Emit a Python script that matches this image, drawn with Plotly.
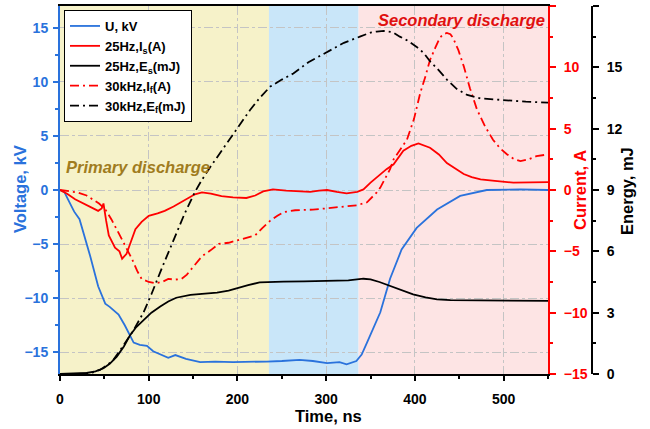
import plotly.graph_objects as go

# ---- data ----
t_U = [0, 5, 9, 16, 22, 28, 34, 43, 51, 56, 66, 73, 83, 90, 98, 105, 113, 122, 130, 142, 158, 175, 195, 215, 233, 250, 270, 285, 301, 315, 323, 334, 340, 346, 353, 361, 372, 385, 402, 425, 451, 481, 519, 550]
U = [0, -0.2, -0.86, -2.0, -2.7, -4.3, -6.1, -8.9, -10.5, -10.8, -11.5, -12.5, -14.1, -14.3, -14.4, -14.9, -15.2, -15.5, -15.25, -15.6, -15.9, -15.85, -15.9, -15.9, -15.85, -15.8, -15.7, -15.8, -16.0, -15.9, -16.1, -15.8, -15.2, -14.1, -12.8, -11.3, -8.2, -5.5, -3.5, -1.8, -0.55, 0, 0.05, 0]

t_Is = [0, 8, 17, 25, 32, 43, 47, 49, 52, 55, 62, 67, 70, 75, 80, 85, 92, 100, 110, 118, 128, 137, 145, 152, 160, 170, 182, 195, 210, 220, 229, 240, 255, 270, 282, 292, 301, 312, 323, 335, 342, 350, 361, 368, 376, 387, 396, 404, 417, 427, 436, 446, 455, 464, 474, 490, 511, 530, 550]
Is = [0, -0.3, -0.76, -1.05, -1.3, -1.7, -1.5, -1.1, -2.5, -3.7, -4.7, -5.0, -5.6, -5.2, -4.2, -3.2, -2.6, -2.1, -1.9, -1.7, -1.35, -1.0, -0.65, -0.35, -0.2, -0.3, -0.5, -0.6, -0.65, -0.45, -0.12, 0.05, -0.05, -0.1, -0.16, -0.05, 0, -0.15, -0.27, -0.15, 0.05, 0.6, 1.3, 1.7, 2.1, 3.2, 3.6, 3.8, 3.45, 2.9, 2.2, 1.7, 1.3, 1.05, 0.87, 0.75, 0.6, 0.62, 0.65]

t_If = [0, 10, 20, 30, 36, 44, 51, 58, 66, 73, 81, 87, 92, 100, 107, 115, 122, 130, 137, 143, 149, 155, 160, 170, 179, 190, 201, 210, 220, 228, 237, 245, 252, 265, 285, 300, 315, 335, 346, 352, 357, 361, 366, 372, 376, 384, 391, 399, 406, 412, 417, 423, 428, 432, 436, 440, 443, 449, 455, 462, 470, 479, 488, 496, 504, 511, 519, 528, 537, 550]
If = [0, -0.1, -0.2, -0.45, -0.76, -1.1, -1.57, -2.4, -3.5, -4.5, -5.6, -6.6, -7.25, -7.5, -7.6, -7.5, -7.25, -7.3, -7.25, -6.9, -6.4, -5.9, -5.4, -4.9, -4.4, -4.3, -4.1, -3.9, -3.7, -3.1, -2.5, -2.1, -1.8, -1.65, -1.6, -1.5, -1.4, -1.24, -1.0, -0.6, -0.2, 0.2, 0.9, 1.7, 2.5, 3.3, 4.1, 5.8, 7.9, 9.3, 10.6, 11.6, 12.4, 12.7, 12.8, 12.7, 12.4, 11.4, 10.1, 8.3, 6.55, 5.2, 4.1, 3.4, 2.9, 2.55, 2.35, 2.5, 2.76, 2.9]

t_Es = [0, 20, 30, 40, 49, 56, 64, 72, 79, 86, 94, 103, 113, 122, 131, 140, 147, 160, 177, 190, 199, 212, 225, 240, 252, 275, 304, 325, 342, 350, 360, 372, 385, 398, 412, 425, 440, 462, 500, 550]
Es = [0, 0.01, 0.05, 0.13, 0.28, 0.5, 0.85, 1.35, 1.9, 2.3, 2.64, 3.0, 3.3, 3.55, 3.73, 3.83, 3.87, 3.92, 3.98, 4.08, 4.2, 4.35, 4.48, 4.52, 4.52, 4.53, 4.55, 4.58, 4.66, 4.63, 4.5, 4.3, 4.08, 3.9, 3.75, 3.65, 3.61, 3.6, 3.58, 3.58]

t_Ef = [0, 20, 35, 45, 52, 60, 70, 83, 94, 103, 115, 128, 140, 152, 160, 169, 177, 186, 195, 205, 214, 225, 237, 250, 263, 280, 301, 320, 338, 350, 357, 365, 375, 383, 392, 402, 410, 417, 427, 436, 447, 459, 474, 490, 504, 525, 550]
Ef = [0, 0, 0.05, 0.2, 0.4, 0.68, 1.3, 2.15, 3.0, 3.9, 5.2, 6.6, 7.8, 8.9, 9.5, 10.1, 10.6, 11.2, 11.76, 12.35, 12.9, 13.5, 14.06, 14.4, 14.7, 15.25, 15.77, 16.2, 16.5, 16.7, 16.75, 16.78, 16.72, 16.5, 16.3, 16.0, 15.7, 15.3, 14.85, 14.4, 13.95, 13.65, 13.48, 13.42, 13.37, 13.32, 13.27]

regions = [(0, 235.5, "#f6f2c9"), (235.5, 336.5, "#c9e6f9"), (336.5, 550, "#fde4e4")]

BLUE = "#2a72dc"
RED = "#ff0000"
GOLD = "#a07c1e"
FONT = "Arial, Liberation Sans, sans-serif"
DASHDOT = "9px,4px,2px,4px"

fig = go.Figure()
fig.add_trace(go.Scatter(x=t_U, y=U, name="U, kV", mode="lines",
                         line=dict(color=BLUE, width=1.8), yaxis="y"))
fig.add_trace(go.Scatter(x=t_Is, y=Is, name="25Hz,I<sub>s</sub>(A)", mode="lines",
                         line=dict(color=RED, width=1.8), yaxis="y2"))
fig.add_trace(go.Scatter(x=t_Es, y=Es, name="25Hz,E<sub>s</sub>(mJ)", mode="lines",
                         line=dict(color="black", width=1.8), yaxis="y3"))
fig.add_trace(go.Scatter(x=t_If, y=If, name="30kHz,I<sub>f</sub>(A)", mode="lines",
                         line=dict(color=RED, width=1.8, dash=DASHDOT), yaxis="y2"))
fig.add_trace(go.Scatter(x=t_Ef, y=Ef, name="30kHz,E<sub>f</sub>(mJ)", mode="lines",
                         line=dict(color="black", width=1.8, dash=DASHDOT), yaxis="y3"))

for x0, x1, c in regions:
    fig.add_shape(type="rect", xref="x", yref="paper", x0=x0, x1=x1, y0=0, y1=1,
                  fillcolor=c, line=dict(width=0), layer="below")

L, T, B = 60, 6, 55
PW = 550            # paper width in px
PH = 429 - T - B    # paper height in px
XD = 488 / PW


def px_x(p):
    return (p - L) / PW


def px_y(p):
    return (429 - B - p) / PH


TF = dict(size=16.5, weight="bold")

fig.update_layout(
    width=650, height=429,
    margin=dict(l=L, r=650 - L - PW, t=T, b=B, autoexpand=False),
    paper_bgcolor="white", plot_bgcolor="white",
    font=dict(family=FONT, size=14, color="black"),
    showlegend=True,
    legend=dict(x=px_x(64), y=px_y(10), xanchor="left", yanchor="top",
                bgcolor="white", bordercolor="black", borderwidth=1,
                font=dict(size=13, weight="bold", color="black"),
                tracegroupgap=0, itemwidth=30),
    xaxis=dict(domain=[0, XD], range=[0, 550], dtick=100, tick0=0, automargin=False,
               showline=True, linecolor="black", linewidth=2, mirror=True,
               ticks="outside", ticklen=5, tickwidth=1.5, tickcolor="black",
               minor=dict(dtick=50, ticks="outside", ticklen=3, tickcolor="black", showgrid=False),
               showgrid=True, gridcolor="#c4c4c4", griddash="dashdot", gridwidth=1,
               zeroline=False, ticklabelstandoff=6,
               tickfont=dict(size=14, weight="bold")),
    yaxis=dict(range=[-17, 17], dtick=5, tick0=0, side="left", automargin=False,
               showline=True, linecolor=BLUE, linewidth=2,
               ticks="outside", ticklen=5, tickwidth=1.5, tickcolor=BLUE,
               minor=dict(dtick=2.5, ticks="outside", ticklen=3, tickcolor=BLUE, showgrid=False),
               showgrid=True, gridcolor="#c4c4c4", griddash="dashdot", gridwidth=1,
               zeroline=False, ticklabelstandoff=2,
               tickfont=dict(size=14, weight="bold", color=BLUE)),
    yaxis2=dict(range=[-15, 15], dtick=5, tick0=0, side="right", overlaying="y", anchor="x",
                automargin=False,
                showline=True, linecolor=RED, linewidth=2,
                ticks="outside", ticklen=6, tickwidth=1.5, tickcolor=RED,
                minor=dict(dtick=2.5, ticks="outside", ticklen=3, tickcolor=RED, showgrid=False),
                showgrid=False, zeroline=False, ticklabelstandoff=5,
                tickfont=dict(size=14, weight="bold", color=RED)),
    yaxis3=dict(range=[0, 18], dtick=3, tick0=0, side="right", overlaying="y", anchor="free",
                position=px_x(592), automargin=False,
                showline=True, linecolor="black", linewidth=2,
                ticks="outside", ticklen=6, tickwidth=1.5, tickcolor="black",
                minor=dict(dtick=1.5, ticks="outside", ticklen=3, tickcolor="black", showgrid=False),
                showgrid=False, zeroline=False, ticklabelstandoff=5,
                tickfont=dict(size=14, weight="bold", color="black")),
    annotations=[
        dict(x=5, y=2.1, xref="x", yref="y", text="<i>Primary discharge</i>", showarrow=False,
             xanchor="left", yanchor="middle",
             font=dict(size=16.5, weight="bold", color=GOLD)),
        dict(x=549, y=15.75, xref="x", yref="y", text="<i>Secondary discharge</i>", showarrow=False,
             xanchor="right", yanchor="middle",
             font=dict(size=16.5, weight="bold", color="#e01010")),
        dict(x=px_x(328), y=px_y(416), xref="paper", yref="paper", text="Time, ns",
             showarrow=False, xanchor="center", yanchor="middle", font=dict(TF, color="black")),
        dict(x=px_x(20), y=px_y(189), xref="paper", yref="paper", text="Voltage, kV",
             showarrow=False, xanchor="center", yanchor="middle", textangle=-90,
             font=dict(TF, color=BLUE)),
        dict(x=px_x(580), y=px_y(190), xref="paper", yref="paper", text="Current, A",
             showarrow=False, xanchor="center", yanchor="middle", textangle=-90,
             font=dict(TF, color=RED)),
        dict(x=px_x(627), y=px_y(191), xref="paper", yref="paper", text="Energy, mJ",
             showarrow=False, xanchor="center", yanchor="middle", textangle=-90,
             font=dict(TF, color="black")),
    ],
)

fig.write_html("out.html", config={"displayModeBar": False},
               post_script="document.body.style.margin='0px';")
